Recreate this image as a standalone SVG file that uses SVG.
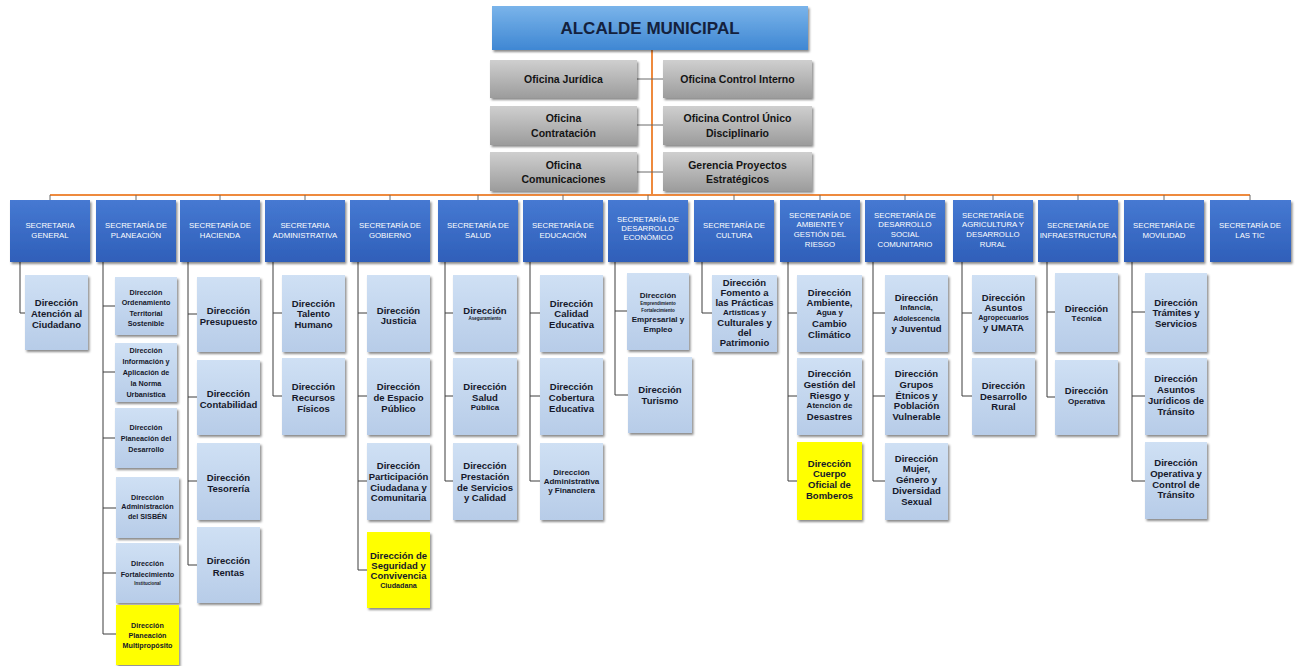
<svg xmlns="http://www.w3.org/2000/svg" width="1298" height="666" viewBox="0 0 1298 666">
<defs>
<linearGradient id="gA" x1="0" y1="0" x2="0" y2="1"><stop offset="0" stop-color="#7ab4ea"/><stop offset="1" stop-color="#3f87d3"/></linearGradient>
<linearGradient id="gO" x1="0" y1="0" x2="0" y2="1"><stop offset="0" stop-color="#cfcfcf"/><stop offset="1" stop-color="#9c9c9c"/></linearGradient>
<linearGradient id="gS" x1="0" y1="0" x2="0" y2="1"><stop offset="0" stop-color="#4679d2"/><stop offset="1" stop-color="#2f5fb9"/></linearGradient>
<linearGradient id="gC" x1="0" y1="0" x2="0" y2="1"><stop offset="0" stop-color="#cfe0f4"/><stop offset="1" stop-color="#b7cce8"/></linearGradient>
<filter id="sh" x="-10%" y="-10%" width="130%" height="130%"><feDropShadow dx="1.5" dy="2" stdDeviation="1.2" flood-color="#000" flood-opacity="0.45"/></filter>
</defs>
<style>
.a{fill:url(#gA);filter:url(#sh)}
.o{fill:url(#gO);filter:url(#sh)}
.s{fill:url(#gS);filter:url(#sh)}
.c{fill:url(#gC);filter:url(#sh)}
.y{fill:#ffff00;filter:url(#sh)}
text{font-family:"Liberation Sans",Arial,sans-serif;text-anchor:middle;dominant-baseline:central}
.ta{font-size:17px;font-weight:bold;fill:#14213d}
.to{font-size:10.5px;font-weight:bold;fill:#141414}
.ts{font-size:7.8px;fill:#ffffff}
.t{font-size:9.5px;font-weight:bold;fill:#15182a}
.m{font-size:8px;font-weight:bold;fill:#15182a}
.n{font-size:7.2px;font-weight:bold;fill:#15182a}
.x{font-size:4.5px;font-weight:bold;fill:#15182a}
.or{stroke:#ee8a3e;stroke-width:2;fill:none}
.k{stroke:#3c3c3c;stroke-width:1;fill:none}
.kg{stroke:#6a6a6a;stroke-width:1;fill:none}
</style>
<g id="connectors">
<path class="or" d="M652 50V195M50 195H1250"/>
<path class="kg" d="M637 79H663M637 125H663M637 172H663"/>
<path class="kg" d="M50 195V200M136 195V200M220 195V200M305 195V200M390 195V200M478 195V200M563 195V200M648 195V200M734 195V200M820 195V200M905 195V200M993 195V200M1078 195V200M1164 195V200M1250 195V200"/>
<path class="k" d="M20 262V313H25"/>
<path class="k" d="M103 262V634H116M103 306H115M103 372H115M103 438H115M103 508H116M103 573H116"/>
<path class="k" d="M188 262V565H197M188 314H197M188 397H197M188 481H197"/>
<path class="k" d="M273 262V396H282M273 313H282"/>
<path class="k" d="M358 262V570H367M358 313H367M358 396H367M358 481H367"/>
<path class="k" d="M445 262V481H453M445 313H453M445 396H453"/>
<path class="k" d="M530 262V481H540M530 313H540M530 396H540"/>
<path class="k" d="M615 262V395H628M615 311H627"/>
<path class="k" d="M702 262V313H712"/>
<path class="k" d="M788 262V481H797M788 313H797M788 396H797"/>
<path class="k" d="M873 262V481H885M873 313H885M873 396H885"/>
<path class="k" d="M962 262V396H972M962 313H972"/>
<path class="k" d="M1047 262V397H1055M1047 312H1055"/>
<path class="k" d="M1132 262V481H1145M1132 312H1145M1132 396H1145"/>
</g>
<g id="alcalde"><rect class="a" x="492" y="6" width="316" height="44"/><text class="ta" x="650" y="28">ALCALDE MUNICIPAL</text></g>
<g id="of-juridica"><rect class="o" x="490" y="60" width="147" height="38"/><text class="to" x="563.5" y="79">Oficina Jurídica</text></g>
<g id="of-control-interno"><rect class="o" x="663" y="60" width="149" height="38"/><text class="to" x="737.5" y="79">Oficina Control Interno</text></g>
<g id="of-contratacion"><rect class="o" x="490" y="106" width="147" height="39"/><text class="to"><tspan x="563.5" y="118">Oficina</tspan><tspan x="563.5" y="133">Contratación</tspan></text></g>
<g id="of-disciplinario"><rect class="o" x="663" y="106" width="149" height="39"/><text class="to"><tspan x="737.5" y="118">Oficina Control Único</tspan><tspan x="737.5" y="133">Disciplinario</tspan></text></g>
<g id="of-comunicaciones"><rect class="o" x="490" y="152" width="147" height="39"/><text class="to"><tspan x="563.5" y="165">Oficina</tspan><tspan x="563.5" y="179">Comunicaciones</tspan></text></g>
<g id="gerencia"><rect class="o" x="663" y="152" width="149" height="39"/><text class="to"><tspan x="737.5" y="165">Gerencia Proyectos</tspan><tspan x="737.5" y="179">Estratégicos</tspan></text></g>

<g id="sec-general"><rect class="s" x="10" y="200" width="80" height="62"/><text class="ts"><tspan x="50" y="225">SECRETARIA</tspan><tspan x="50" y="235">GENERAL</tspan></text></g>
<g id="sec-planeacion"><rect class="s" x="96" y="200" width="80" height="62"/><text class="ts"><tspan x="136" y="225">SECRETARÍA DE</tspan><tspan x="136" y="235">PLANEACIÓN</tspan></text></g>
<g id="sec-hacienda"><rect class="s" x="180" y="200" width="80" height="62"/><text class="ts"><tspan x="220" y="225">SECRETARÍA DE</tspan><tspan x="220" y="235">HACIENDA</tspan></text></g>
<g id="sec-administrativa"><rect class="s" x="265" y="200" width="80" height="62"/><text class="ts"><tspan x="305" y="225">SECRETARIA</tspan><tspan x="305" y="235">ADMINISTRATIVA</tspan></text></g>
<g id="sec-gobierno"><rect class="s" x="350" y="200" width="80" height="62"/><text class="ts"><tspan x="390" y="225">SECRETARÍA DE</tspan><tspan x="390" y="235">GOBIERNO</tspan></text></g>
<g id="sec-salud"><rect class="s" x="438" y="200" width="80" height="62"/><text class="ts"><tspan x="478" y="225">SECRETARÍA DE</tspan><tspan x="478" y="235">SALUD</tspan></text></g>
<g id="sec-educacion"><rect class="s" x="523" y="200" width="80" height="62"/><text class="ts"><tspan x="563" y="225">SECRETARÍA DE</tspan><tspan x="563" y="235">EDUCACIÓN</tspan></text></g>
<g id="sec-economico"><rect class="s" x="608" y="200" width="80" height="62"/><text class="ts"><tspan x="648" y="219">SECRETARÍA DE</tspan><tspan x="648" y="228">DESARROLLO</tspan><tspan x="648" y="237">ECONÓMICO</tspan></text></g>
<g id="sec-cultura"><rect class="s" x="694" y="200" width="80" height="62"/><text class="ts"><tspan x="734" y="225">SECRETARÍA DE</tspan><tspan x="734" y="235">CULTURA</tspan></text></g>
<g id="sec-ambiente"><rect class="s" x="780" y="200" width="80" height="62"/><text class="ts"><tspan x="820" y="215">SECRETARÍA DE</tspan><tspan x="820" y="224">AMBIENTE Y</tspan><tspan x="820" y="234">GESTIÓN DEL</tspan><tspan x="820" y="244">RIESGO</tspan></text></g>
<g id="sec-social"><rect class="s" x="865" y="200" width="80" height="62"/><text class="ts"><tspan x="905" y="215">SECRETARÍA DE</tspan><tspan x="905" y="224">DESARROLLO</tspan><tspan x="905" y="234">SOCIAL</tspan><tspan x="905" y="244">COMUNITARIO</tspan></text></g>
<g id="sec-agricultura"><rect class="s" x="953" y="200" width="80" height="62"/><text class="ts"><tspan x="993" y="215">SECRETARÍA DE</tspan><tspan x="993" y="224">AGRICULTURA Y</tspan><tspan x="993" y="234">DESARROLLO</tspan><tspan x="993" y="244">RURAL</tspan></text></g>
<g id="sec-infraestructura"><rect class="s" x="1038" y="200" width="80" height="62"/><text class="ts"><tspan x="1078" y="225">SECRETARÍA DE</tspan><tspan x="1078" y="235">INFRAESTRUCTURA</tspan></text></g>
<g id="sec-movilidad"><rect class="s" x="1124" y="200" width="80" height="62"/><text class="ts"><tspan x="1164" y="225">SECRETARÍA DE</tspan><tspan x="1164" y="235">MOVILIDAD</tspan></text></g>
<g id="sec-tic"><rect class="s" x="1210" y="200" width="81" height="62"/><text class="ts"><tspan x="1250" y="225">SECRETARÍA DE</tspan><tspan x="1250" y="235">LAS TIC</tspan></text></g>

<g id="d-atencion"><rect class="c" x="25" y="275" width="63" height="75"/><text class="t"><tspan x="56.5" y="302">Dirección</tspan><tspan x="56.5" y="313">Atención al</tspan><tspan x="56.5" y="324">Ciudadano</tspan></text></g>

<g id="d-ordenamiento"><rect class="c" x="115" y="277" width="62" height="58"/><text class="n"><tspan x="146" y="292">Dirección</tspan><tspan x="146" y="302">Ordenamiento</tspan><tspan x="146" y="313">Territorial</tspan><tspan x="146" y="323">Sostenible</tspan></text></g>
<g id="d-norma"><rect class="c" x="115" y="343" width="62" height="59"/><text class="n"><tspan x="146" y="350">Dirección</tspan><tspan x="146" y="361">Información y</tspan><tspan x="146" y="372">Aplicación de</tspan><tspan x="146" y="383">la Norma</tspan><tspan x="146" y="394">Urbanística</tspan></text></g>
<g id="d-planeacion-desarrollo"><rect class="c" x="115" y="408" width="62" height="60"/><text class="n"><tspan x="146" y="427">Dirección</tspan><tspan x="146" y="438">Planeación del</tspan><tspan x="146" y="449">Desarrollo</tspan></text></g>
<g id="d-sisben"><rect class="c" x="116" y="477" width="63" height="61"/><text class="n"><tspan x="147.5" y="497">Dirección</tspan><tspan x="147.5" y="506">Administración</tspan><tspan x="147.5" y="516">del SISBÉN</tspan></text></g>
<g id="d-fortalecimiento"><rect class="c" x="116" y="543" width="63" height="60"/><text class="n"><tspan x="147.5" y="563">Dirección</tspan><tspan x="147.5" y="574">Fortalecimiento</tspan><tspan x="147.5" y="583" class="x">Institucional</tspan></text></g>
<g id="d-multiproposito"><rect class="y" x="116" y="605" width="63" height="60"/><text class="n"><tspan x="147.5" y="625">Dirección</tspan><tspan x="147.5" y="635">Planeación</tspan><tspan x="147.5" y="645">Multipropósito</tspan></text></g>

<g id="d-presupuesto"><rect class="c" x="197" y="277" width="63" height="75"/><text class="t"><tspan x="228.5" y="310">Dirección</tspan><tspan x="228.5" y="321">Presupuesto</tspan></text></g>
<g id="d-contabilidad"><rect class="c" x="197" y="360" width="63" height="75"/><text class="t"><tspan x="228.5" y="393">Dirección</tspan><tspan x="228.5" y="404">Contabilidad</tspan></text></g>
<g id="d-tesoreria"><rect class="c" x="197" y="443" width="63" height="77"/><text class="t"><tspan x="228.5" y="477">Dirección</tspan><tspan x="228.5" y="488">Tesorería</tspan></text></g>
<g id="d-rentas"><rect class="c" x="197" y="527" width="63" height="76"/><text class="t"><tspan x="228.5" y="560">Dirección</tspan><tspan x="228.5" y="572">Rentas</tspan></text></g>

<g id="d-talento"><rect class="c" x="282" y="275" width="63" height="77"/><text class="t"><tspan x="313.5" y="303">Dirección</tspan><tspan x="313.5" y="313">Talento</tspan><tspan x="313.5" y="324">Humano</tspan></text></g>
<g id="d-recursos"><rect class="c" x="282" y="358" width="63" height="77"/><text class="t"><tspan x="313.5" y="386">Dirección</tspan><tspan x="313.5" y="397">Recursos</tspan><tspan x="313.5" y="408">Físicos</tspan></text></g>

<g id="d-justicia"><rect class="c" x="367" y="275" width="63" height="77"/><text class="t"><tspan x="398.5" y="310">Dirección</tspan><tspan x="398.5" y="320">Justicia</tspan></text></g>
<g id="d-espacio"><rect class="c" x="367" y="358" width="63" height="77"/><text class="t"><tspan x="398.5" y="386">Dirección</tspan><tspan x="398.5" y="397">de Espacio</tspan><tspan x="398.5" y="408">Público</tspan></text></g>
<g id="d-participacion"><rect class="c" x="367" y="443" width="63" height="77"/><text class="t"><tspan x="398.5" y="465">Dirección</tspan><tspan x="398.5" y="476">Participación</tspan><tspan x="398.5" y="487">Ciudadana y</tspan><tspan x="398.5" y="497">Comunitaria</tspan></text></g>
<g id="d-seguridad"><rect class="y" x="367" y="532" width="63" height="76"/><text class="t"><tspan x="398.5" y="555">Dirección de</tspan><tspan x="398.5" y="565">Seguridad y</tspan><tspan x="398.5" y="575">Convivencia</tspan><tspan x="398.5" y="585" class="n">Ciudadana</tspan></text></g>

<g id="d-aseguramiento"><rect class="c" x="453" y="275" width="64" height="77"/><text class="t"><tspan x="485" y="310">Dirección</tspan><tspan x="485" y="318" class="x">Aseguramiento</tspan></text></g>
<g id="d-salud-publica"><rect class="c" x="453" y="358" width="64" height="77"/><text class="t"><tspan x="485" y="386">Dirección</tspan><tspan x="485" y="397">Salud</tspan><tspan x="485" y="407" class="m">Pública</tspan></text></g>
<g id="d-prestacion"><rect class="c" x="453" y="443" width="64" height="77"/><text class="t"><tspan x="485" y="465">Dirección</tspan><tspan x="485" y="476">Prestación</tspan><tspan x="485" y="487">de Servicios</tspan><tspan x="485" y="497">y Calidad</tspan></text></g>

<g id="d-calidad"><rect class="c" x="540" y="275" width="63" height="77"/><text class="t"><tspan x="571.5" y="303">Dirección</tspan><tspan x="571.5" y="313">Calidad</tspan><tspan x="571.5" y="324">Educativa</tspan></text></g>
<g id="d-cobertura"><rect class="c" x="540" y="358" width="63" height="77"/><text class="t"><tspan x="571.5" y="386">Dirección</tspan><tspan x="571.5" y="397">Cobertura</tspan><tspan x="571.5" y="408">Educativa</tspan></text></g>
<g id="d-administrativa-financiera"><rect class="c" x="540" y="443" width="63" height="77"/><text class="m"><tspan x="571.5" y="472">Dirección</tspan><tspan x="571.5" y="481">Administrativa</tspan><tspan x="571.5" y="490">y Financiera</tspan></text></g>

<g id="d-emprendimiento"><rect class="c" x="627" y="273" width="62" height="77"/><text class="m"><tspan x="658" y="295">Dirección</tspan><tspan x="658" y="303" class="x">Emprendimiento</tspan><tspan x="658" y="310" class="x">Fortalecimiento</tspan><tspan x="658" y="319">Empresarial y</tspan><tspan x="658" y="329">Empleo</tspan></text></g>
<g id="d-turismo"><rect class="c" x="628" y="357" width="64" height="76"/><text class="t"><tspan x="660" y="389">Dirección</tspan><tspan x="660" y="400">Turismo</tspan></text></g>

<g id="d-fomento"><rect class="c" x="712" y="275" width="65" height="77"/><text class="t"><tspan x="744.5" y="282">Dirección</tspan><tspan x="744.5" y="292">Fomento a</tspan><tspan x="744.5" y="302">las Prácticas</tspan><tspan x="744.5" y="312" class="m">Artísticas y</tspan><tspan x="744.5" y="322">Culturales y</tspan><tspan x="744.5" y="332">del</tspan><tspan x="744.5" y="342">Patrimonio</tspan></text></g>

<g id="d-ambiente"><rect class="c" x="797" y="275" width="65" height="77"/><text class="t"><tspan x="829.5" y="292">Dirección</tspan><tspan x="829.5" y="302">Ambiente,</tspan><tspan x="829.5" y="312" class="m">Agua y</tspan><tspan x="829.5" y="323">Cambio</tspan><tspan x="829.5" y="334">Climático</tspan></text></g>
<g id="d-gestion-riesgo"><rect class="c" x="797" y="358" width="65" height="77"/><text class="t"><tspan x="829.5" y="373">Dirección</tspan><tspan x="829.5" y="384">Gestión del</tspan><tspan x="829.5" y="395">Riesgo y</tspan><tspan x="829.5" y="405" class="m">Atención de</tspan><tspan x="829.5" y="416">Desastres</tspan></text></g>
<g id="d-bomberos"><rect class="y" x="797" y="442" width="65" height="78"/><text class="t"><tspan x="829.5" y="463">Dirección</tspan><tspan x="829.5" y="473">Cuerpo</tspan><tspan x="829.5" y="484">Oficial de</tspan><tspan x="829.5" y="495">Bomberos</tspan></text></g>

<g id="d-infancia"><rect class="c" x="885" y="275" width="63" height="77"/><text class="t"><tspan x="916.5" y="297">Dirección</tspan><tspan x="916.5" y="307" class="m">Infancia,</tspan><tspan x="916.5" y="318" class="n">Adolescencia</tspan><tspan x="916.5" y="328">y Juventud</tspan></text></g>
<g id="d-etnicos"><rect class="c" x="885" y="358" width="63" height="77"/><text class="t"><tspan x="916.5" y="373">Dirección</tspan><tspan x="916.5" y="384">Grupos</tspan><tspan x="916.5" y="395">Étnicos y</tspan><tspan x="916.5" y="405">Población</tspan><tspan x="916.5" y="416">Vulnerable</tspan></text></g>
<g id="d-mujer"><rect class="c" x="885" y="443" width="63" height="77"/><text class="t"><tspan x="916.5" y="458">Dirección</tspan><tspan x="916.5" y="468">Mujer,</tspan><tspan x="916.5" y="479">Género y</tspan><tspan x="916.5" y="490">Diversidad</tspan><tspan x="916.5" y="501">Sexual</tspan></text></g>

<g id="d-agropecuarios"><rect class="c" x="972" y="275" width="63" height="77"/><text class="t"><tspan x="1003.5" y="297">Dirección</tspan><tspan x="1003.5" y="307">Asuntos</tspan><tspan x="1003.5" y="317" class="n">Agropecuarios</tspan><tspan x="1003.5" y="327">y UMATA</tspan></text></g>
<g id="d-desarrollo-rural"><rect class="c" x="972" y="358" width="63" height="77"/><text class="t"><tspan x="1003.5" y="385">Dirección</tspan><tspan x="1003.5" y="396">Desarrollo</tspan><tspan x="1003.5" y="406">Rural</tspan></text></g>

<g id="d-tecnica"><rect class="c" x="1055" y="273" width="63" height="79"/><text class="t"><tspan x="1086.5" y="308">Dirección</tspan><tspan x="1086.5" y="318" class="m">Técnica</tspan></text></g>
<g id="d-operativa"><rect class="c" x="1055" y="360" width="63" height="75"/><text class="t"><tspan x="1086.5" y="390">Dirección</tspan><tspan x="1086.5" y="401" class="m">Operativa</tspan></text></g>

<g id="d-tramites"><rect class="c" x="1145" y="273" width="62" height="79"/><text class="t"><tspan x="1176" y="302">Dirección</tspan><tspan x="1176" y="312">Trámites y</tspan><tspan x="1176" y="323">Servicios</tspan></text></g>
<g id="d-juridicos-transito"><rect class="c" x="1145" y="358" width="62" height="77"/><text class="t"><tspan x="1176" y="378">Dirección</tspan><tspan x="1176" y="389">Asuntos</tspan><tspan x="1176" y="400">Jurídicos de</tspan><tspan x="1176" y="411">Tránsito</tspan></text></g>
<g id="d-control-transito"><rect class="c" x="1145" y="442" width="62" height="77"/><text class="t"><tspan x="1176" y="462">Dirección</tspan><tspan x="1176" y="473">Operativa y</tspan><tspan x="1176" y="484">Control de</tspan><tspan x="1176" y="494">Tránsito</tspan></text></g>
</svg>
